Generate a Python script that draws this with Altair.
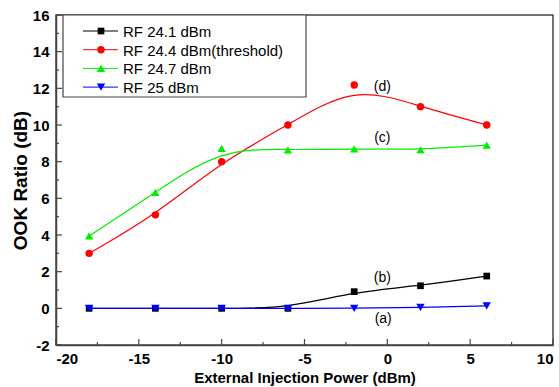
import altair as alt
import pandas as pd

# ---- data ----
x_vals = [-18, -14, -10, -6, -2, 2, 6]
rf241 = [0.0, 0.0, 0.0, 0.0, 0.91, 1.23, 1.76]
rf244 = [3.0, 5.1, 8.0, 10.0, 12.18, 11.0, 10.0]
rf247 = [3.95, 6.33, 8.73, 8.64, 8.7, 8.65, 8.9]
rf25 = [0.0, 0.0, 0.0, 0.0, 0.0, 0.05, 0.13]

series_names = ["RF 24.1 dBm", "RF 24.4 dBm(threshold)", "RF 24.7 dBm", "RF 25 dBm"]
series_colors = ["#000000", "#ff0000", "#00ee00", "#0000ff"]
series_shapes = ["square", "circle", "triangle-up", "triangle-down"]
series_sizes = [45, 55, 70, 70]
series_values = [rf241, rf244, rf247, rf25]

ann_text = ["(d)", "(c)", "(b)", "(a)"]
ann_x = [-0.3, -0.3, -0.3, -0.25]
ann_y = [12.1, 9.3, 1.65, -0.58]

x_major = [-20, -15, -10, -5, 0, 5, 10]
x_minor = [-17.5, -12.5, -7.5, -2.5, 2.5, 7.5]
y_major = [-2, 0, 2, 4, 6, 8, 10, 12, 14, 16]
y_minor = [-1, 1, 3, 5, 7, 9, 11, 13, 15]

W, H = 497, 330
FONT = "Liberation Sans"

rows = []
for name, vals in zip(series_names, series_values):
    for xv, yv in zip(x_vals, vals):
        rows.append({"series": name, "x": xv, "y": yv})
df = pd.DataFrame(rows)

xs = alt.Scale(domain=[-20, 10], nice=False, zero=False)
ys = alt.Scale(domain=[-2, 16], nice=False, zero=False)

x_axis = alt.Axis(
    values=x_major, ticks=False, labelFont=FONT, labelFontSize=15, labelFontWeight="bold",
    labelColor="#000", labelPadding=6, domainColor="#444", domainWidth=1.5, grid=False,
    labelOverlap=False, labelExpr="'' + datum.value",
    title="External Injection Power (dBm)", titleFont=FONT, titleFontSize=15,
    titleFontWeight="bold", titleColor="#000", titlePadding=4)
y_axis = alt.Axis(
    values=y_major, ticks=False, labelFont=FONT, labelFontSize=15, labelFontWeight="bold",
    labelColor="#000", labelPadding=7, domainColor="#444", domainWidth=1.5, grid=False,
    labelOverlap=False, labelExpr="'' + datum.value",
    title="OOK Ratio (dB)", titleFont=FONT, titleFontSize=19,
    titleFontWeight="bold", titleColor="#000", titlePadding=2)

X = lambda f: alt.X(f, scale=xs, axis=x_axis)
Y = lambda f: alt.Y(f, scale=ys, axis=y_axis)

layers = []

for name, col, shp, sz in zip(series_names, series_colors, series_shapes, series_sizes):
    sub = df[df.series == name]
    line = alt.Chart(sub).mark_line(color=col, strokeWidth=1.2, interpolate="basis").encode(
        x=X("x:Q"), y=Y("y:Q"))
    pts = alt.Chart(sub).mark_point(color=col, fill=col, filled=True, opacity=1, shape=shp, size=sz).encode(
        x=X("x:Q"), y=Y("y:Q"))
    layers += [line, pts]

# annotations
ann_df = pd.DataFrame({"t": ann_text, "x": ann_x, "y": ann_y})
layers.append(alt.Chart(ann_df).mark_text(font=FONT, fontSize=14, color="#000").encode(
    x=X("x:Q"), y=Y("y:Q"), text="t:N"))

# inward ticks
def xticks(vals, length):
    return alt.Chart(pd.DataFrame({"x": vals})).mark_rule(color="#444", strokeWidth=1.2).encode(
        x=X("x:Q"), y=alt.value(H - length), y2=alt.value(H))

def yticks(vals, length):
    return alt.Chart(pd.DataFrame({"y": vals})).mark_rule(color="#444", strokeWidth=1.2).encode(
        y=Y("y:Q"), x=alt.value(0), x2=alt.value(length))

layers += [xticks(x_major, 6), xticks(x_minor, 3), yticks(y_major, 6), yticks(y_minor, 3)]

# legend (manual)
leg_box = alt.Chart(pd.DataFrame({"a": [0]})).mark_rect(
    fill="white", stroke="#444", strokeWidth=1.2).encode(
    x=alt.value(7), x2=alt.value(250), y=alt.value(0), y2=alt.value(82))
layers.append(leg_box)
for i, (name, col, shp, sz) in enumerate(zip(series_names, series_colors, series_shapes, series_sizes)):
    yy = 16 + i * 18.7
    ldf = pd.DataFrame({"name": [name]})
    layers.append(alt.Chart(ldf).mark_rule(color=col, strokeWidth=1).encode(
        x=alt.value(27), x2=alt.value(62), y=alt.value(yy)))
    layers.append(alt.Chart(ldf).mark_point(color=col, fill=col, filled=True, opacity=1,
                                            shape=shp, size=sz).encode(
        x=alt.value(45), y=alt.value(yy)))
    layers.append(alt.Chart(ldf).mark_text(font=FONT, fontSize=15, color="#000", align="left",
                                           baseline="middle").encode(
        x=alt.value(67), y=alt.value(yy + 1), text="name:N"))

chart = alt.layer(*layers).properties(
    width=W, height=H,
    autosize=alt.AutoSizeParams(type="none"),
    padding={"left": 56, "top": 15, "right": 6, "bottom": 42},
    background="white",
).configure_view(stroke="#444", strokeWidth=1.5).configure_axis(labelOverlap=False)

chart.save("out.html", embed_options={"renderer": "svg", "actions": False})
